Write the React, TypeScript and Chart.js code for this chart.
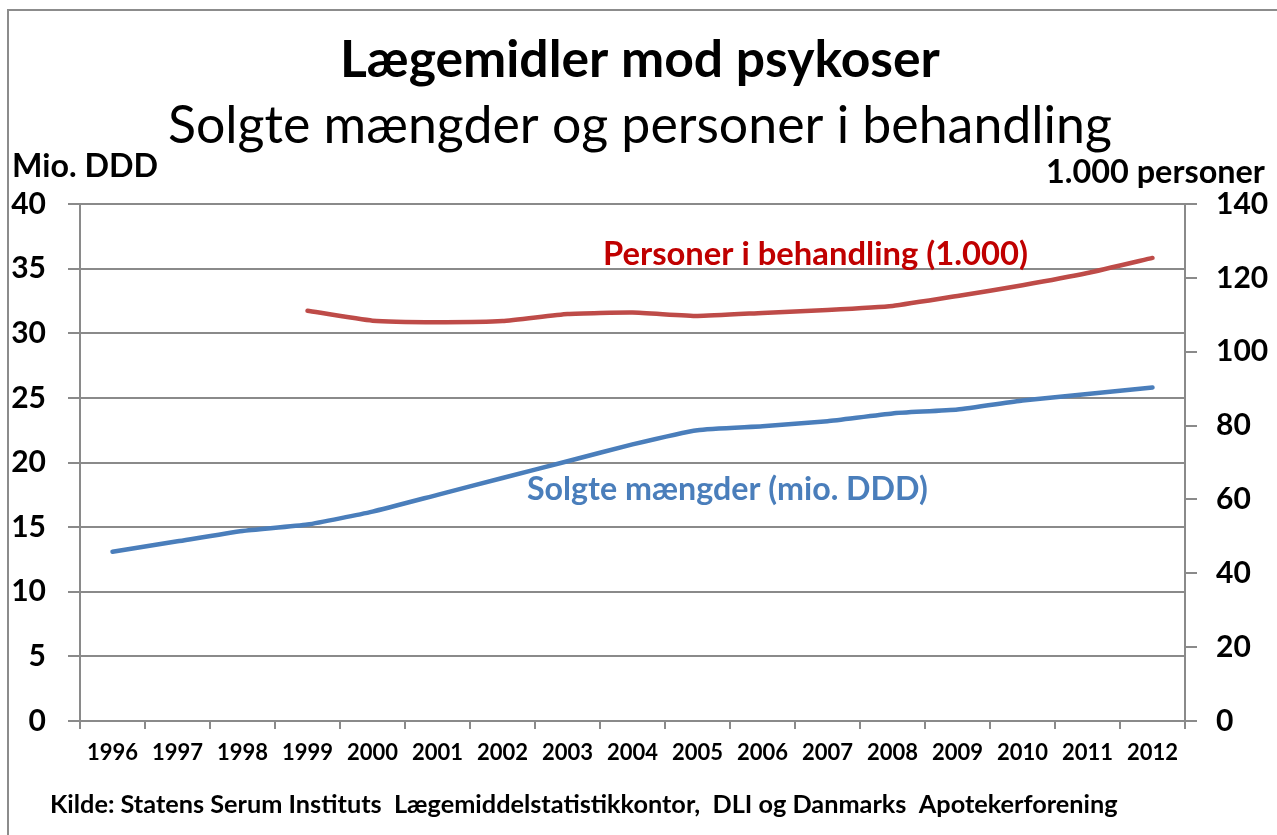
import React, { useEffect, useRef } from "react";
import { Chart, registerables } from "chart.js";

Chart.register(...registerables);

const years = ["1996","1997","1998","1999","2000","2001","2002","2003","2004","2005","2006","2007","2008","2009","2010","2011","2012"];
const soldDDD = [13.1, 13.9, 14.7, 15.2, 16.2, 17.5, 18.8, 20.1, 21.4, 22.5, 22.8, 23.2, 23.8, 24.1, 24.8, 25.3, 25.8];
const personsThousand = [null, null, null, 111.1, 108.4, 108.0, 108.3, 110.2, 110.6, 109.7, 110.5, 111.3, 112.4, 115.1, 118.0, 121.3, 125.4];
const leftTicks = { min: 0, max: 40, step: 5 };
const rightTicks = { min: 0, max: 140, step: 20 };

const TITLE = "Lægemidler mod psykoser";
const SUBTITLE = "Solgte mængder og personer i behandling";
const LEFT_UNIT = "Mio. DDD";
const RIGHT_UNIT = "1.000 personer";
const RED_LABEL = "Personer i behandling (1.000)";
const BLUE_LABEL = "Solgte mængder (mio. DDD)";
const SOURCE = "Kilde: Statens Serum Instituts  Lægemiddelstatistikkontor,  DLI og Danmarks  Apotekerforening";

const FAMILY = "Lato, 'Open Sans', sans-serif";
const BLUE = "#4a7ebb";
const RED = "#be4b48";
const GRID = "#8a8a8a";

type TextSpec = { text: string; weight: string; x0: number; x1: number; y: number; color: string };

const texts: TextSpec[] = [
  { text: TITLE, weight: "bold", x0: 340, x1: 940, y: 77, color: "#000" },
  { text: SUBTITLE, weight: "normal", x0: 168, x1: 1112, y: 143, color: "#000" },
  { text: LEFT_UNIT, weight: "bold", x0: 12, x1: 158, y: 177, color: "#000" },
  { text: RIGHT_UNIT, weight: "bold", x0: 1046, x1: 1265, y: 183, color: "#000" },
  { text: RED_LABEL, weight: "bold", x0: 603, x1: 1028, y: 265, color: "#c00000" },
  { text: BLUE_LABEL, weight: "bold", x0: 527, x1: 928, y: 500, color: BLUE },
  { text: SOURCE, weight: "bold", x0: 50, x1: 1118, y: 813, color: "#000" },
];

const decorPlugin = {
  id: "decor",
  beforeDraw(chart: any) {
    const ctx = chart.ctx;
    ctx.save();
    ctx.fillStyle = "#fff";
    ctx.fillRect(0, 0, chart.width, chart.height);
    ctx.strokeStyle = "#8c8c8c";
    ctx.lineWidth = 2;
    ctx.beginPath();
    ctx.moveTo(8, chart.height + 5);
    ctx.lineTo(8, 10);
    ctx.lineTo(chart.width + 5, 10);
    ctx.stroke();
    ctx.restore();
  },
  afterDraw(chart: any) {
    const ctx = chart.ctx;
    ctx.save();
    ctx.textBaseline = "alphabetic";
    ctx.textAlign = "left";
    for (const t of texts) {
      const base = 40;
      ctx.font = `${t.weight} ${base}px ${FAMILY}`;
      const w = ctx.measureText(t.text).width;
      const size = (base * (t.x1 - t.x0)) / w;
      ctx.font = `${t.weight} ${size}px ${FAMILY}`;
      ctx.fillStyle = t.color;
      ctx.fillText(t.text, t.x0, t.y);
    }
    ctx.restore();
  },
};

export default function App() {
  const ref = useRef<HTMLCanvasElement | null>(null);
  useEffect(() => {
    if (!ref.current) return;
    const chart = new Chart(ref.current, {
      type: "line",
      data: {
        labels: years,
        datasets: [
          {
            label: BLUE_LABEL,
            data: soldDDD,
            borderColor: BLUE,
            backgroundColor: BLUE,
            borderWidth: 4.5,
            pointRadius: 0,
            tension: 0.15,
            yAxisID: "y",
            borderCapStyle: "round",
          },
          {
            label: RED_LABEL,
            data: personsThousand,
            borderColor: RED,
            backgroundColor: RED,
            borderWidth: 4.5,
            pointRadius: 0,
            tension: 0.15,
            yAxisID: "y1",
            borderCapStyle: "round",
          },
        ],
      },
      options: {
        responsive: false,
        animation: false,
        layout: { padding: { top: 204, left: 0, right: 0, bottom: 0 } },
        plugins: { legend: { display: false }, title: { display: false }, tooltip: { enabled: false } },
        scales: {
          x: {
            type: "category",
            offset: true,
            grid: { display: true, drawOnChartArea: false, offset: true, color: GRID, lineWidth: 2, tickLength: 8, tickColor: GRID },
            border: { display: true, color: GRID, width: 2 },
            ticks: { color: "#000", font: { family: FAMILY, weight: "bold", size: 22 }, padding: 11, maxRotation: 0, autoSkip: false },
            afterFit(scale: any) { scale.height = 114; },
          },
          y: {
            position: "left",
            min: leftTicks.min,
            max: leftTicks.max,
            ticks: { stepSize: leftTicks.step, color: "#000", font: { family: FAMILY, weight: "bold", size: 30 }, padding: 22 },
            grid: { color: GRID, lineWidth: 2, tickLength: 12, tickColor: GRID },
            border: { display: true, color: GRID, width: 2 },
            afterFit(scale: any) { scale.width = 80; },
          },
          y1: {
            position: "right",
            min: rightTicks.min,
            max: rightTicks.max,
            ticks: { stepSize: rightTicks.step, color: "#000", font: { family: FAMILY, weight: "bold", size: 30 }, padding: 19 },
            grid: { drawOnChartArea: false, color: GRID, lineWidth: 2, tickLength: 12, tickColor: GRID },
            border: { display: true, color: GRID, width: 2 },
            afterFit(scale: any) { scale.width = 92; },
          },
        },
      },
      plugins: [decorPlugin],
    } as any);
    return () => chart.destroy();
  }, []);
  return (
    <div style={{ position: "absolute", left: 0, top: 0, width: 1277, height: 835, background: "#fff" }}>
      <canvas ref={ref} width={1277} height={835} style={{ display: "block", width: 1277, height: 835 }} />
    </div>
  );
}
